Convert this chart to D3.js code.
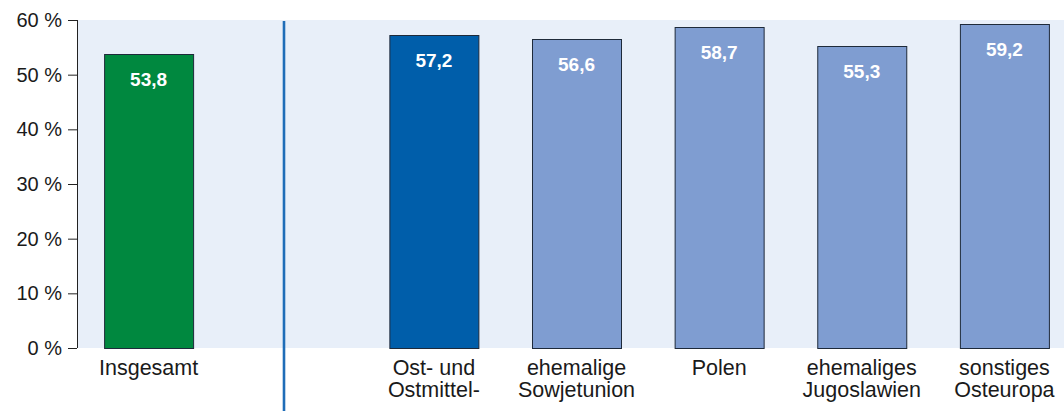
<!DOCTYPE html>
<html>
<head>
<meta charset="utf-8">
<script src="https://cdn.jsdelivr.net/npm/d3@7"></script>
<style>
  body { margin: 0; background: #fff; }
  svg { display: block; font-family: "Liberation Sans", Arial, sans-serif; }
</style>
</head>
<body>
<script>
// data
const categories = ['Insgesamt', '', 'Ost- und Ostmittel-', 'ehemalige Sowjetunion', 'Polen', 'ehemaliges Jugoslawien', 'sonstiges Osteuropa'];
const labelLines = [['Insgesamt'], [], ['Ost- und', 'Ostmittel-'], ['ehemalige', 'Sowjetunion'], ['Polen'], ['ehemaliges', 'Jugoslawien'], ['sonstiges', 'Osteuropa']];
const values = [53.8, null, 57.2, 56.6, 58.7, 55.3, 59.2];
const barColors = ['#00883f', null, '#005eaa', '#7f9dd1', '#7f9dd1', '#7f9dd1', '#7f9dd1'];
const yTicks = [0, 10, 20, 30, 40, 50, 60];

const width = 1064, height = 411;
const margin = {top: 20, left: 77, bottom: 63};
const plotBottom = height - margin.bottom;

const svg = d3.select('body').append('svg').attr('width', width).attr('height', height);

const x = d3.scaleBand().domain(categories.map((d, i) => i))
  .range([margin.left, 1076]).paddingInner(0.376).paddingOuter(0.19);
const y = d3.scaleLinear().domain([0, 60]).range([plotBottom, margin.top]);

// background
svg.append('rect').attr('x', margin.left).attr('y', margin.top)
  .attr('width', width - margin.left).attr('height', plotBottom - margin.top)
  .attr('fill', '#e8eff9');

// bars
const data = values.map((v, i) => ({i, v, c: barColors[i]})).filter(d => d.v != null);
svg.selectAll('rect.bar').data(data).enter().append('rect')
  .attr('class', 'bar')
  .attr('x', d => x(d.i) + 0.5)
  .attr('y', d => Math.round(y(d.v)) + 0.5)
  .attr('width', x.bandwidth())
  .attr('height', d => plotBottom - Math.round(y(d.v)))
  .attr('fill', d => d.c)
  .attr('stroke', '#1e2a3a').attr('stroke-width', 1);

svg.selectAll('text.val').data(data).enter().append('text')
  .attr('class', 'val')
  .attr('x', d => x(d.i) + x.bandwidth() / 2)
  .attr('y', d => y(d.v) + 32)
  .attr('text-anchor', 'middle')
  .attr('fill', '#fff').attr('font-weight', 'bold').attr('font-size', 19)
  .text(d => d3.format('.1f')(d.v).replace('.', ','));

// separator
svg.append('line')
  .attr('x1', 284).attr('x2', 284).attr('y1', margin.top + 1).attr('y2', height)
  .attr('stroke', '#1f6db8').attr('stroke-width', 2.6);

// y axis
const yAxis = svg.append('g').attr('transform', 'translate(' + margin.left + ',0)')
  .call(d3.axisLeft(y).tickValues(yTicks).tickSize(9).tickPadding(6).tickFormat(d => d + ' %'));
yAxis.selectAll('path, line').attr('stroke', '#222');
yAxis.select('.domain').attr('d', 'M0.5,' + margin.top + 'V' + plotBottom);
yAxis.selectAll('text').attr('font-size', 20).attr('fill', '#1a1a1a')
  .attr('font-family', '"Liberation Sans", Arial, sans-serif');

// category labels
const lab = svg.selectAll('text.cat').data(labelLines.map((l, i) => ({l, i}))).enter().append('text')
  .attr('class', 'cat')
  .attr('text-anchor', 'middle')
  .attr('font-size', 21.5).attr('fill', '#1a1a1a');
lab.selectAll('tspan').data(d => d.l.map(t => ({t, i: d.i}))).enter().append('tspan')
  .attr('x', d => x(d.i) + x.bandwidth() / 2)
  .attr('y', (d, j) => 375 + j * 22)
  .text(d => d.t);
</script>
</body>
</html>
